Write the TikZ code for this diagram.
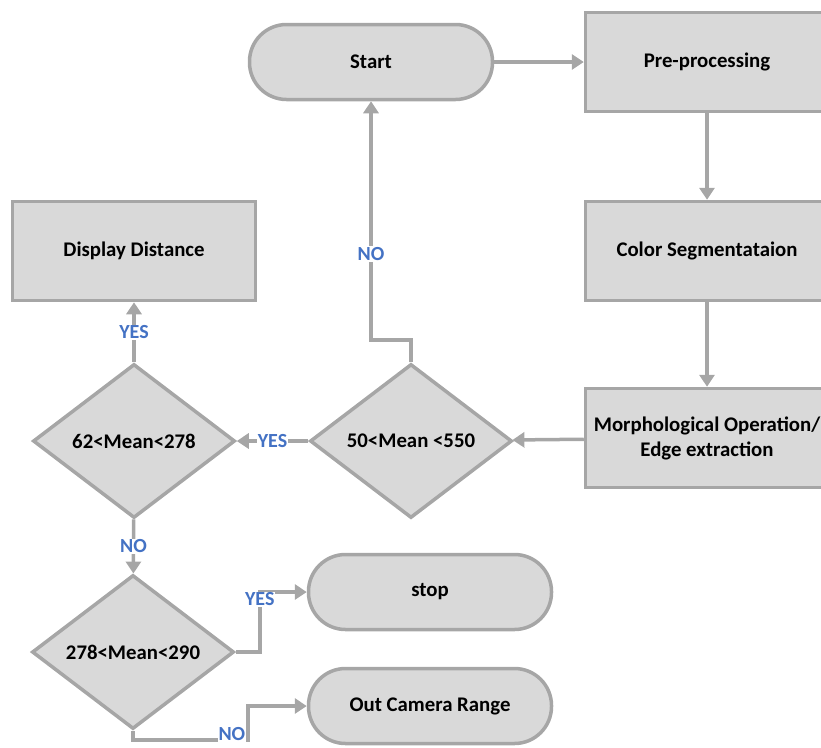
\documentclass[tikz,border=0pt]{standalone}
\usepackage{fontspec}
\setmainfont{Carlito}
\usetikzlibrary{shapes.geometric,arrows.meta}
\definecolor{boxfill}{HTML}{D9D9D9}
\definecolor{boxline}{HTML}{A6A6A6}
\definecolor{lblblue}{HTML}{4472C4}
\begin{document}
\begin{tikzpicture}[x=1pt,y=-1pt,
  box/.style={draw=boxline, fill=boxfill, line width=3.5pt, minimum width=243pt, inner sep=2pt, font=\fontsize{20.8}{25}\selectfont\bfseries, align=center},
  term/.style={box, rounded corners=37pt, minimum height=75pt},
  proc/.style={box, minimum height=99pt},
  cond/.style={box, diamond, minimum width=202pt, minimum height=154pt, inner sep=0pt},
  conn/.style={draw=boxline, line width=3.5pt, -{Triangle[width=15pt,length=12pt]}},
  lbl/.style={fill=white, text=lblblue, inner sep=1pt, font=\fontsize{20}{22}\selectfont\bfseries}]
\useasboundingbox (0,0) rectangle (821,747);
\node[term] (start) at (371,62) {Start};
\node[proc] (pre) at (707,62) {Pre-processing};
\node[proc] (seg) at (707,251) {Color Segmentataion};
\node[proc] (morph) at (707,438) {Morphological Operation/\\Edge extraction};
\node[proc] (disp) at (134,251) {Display Distance};
\node[cond] (meanA) at (411,441) {50<Mean <550};
\node[cond] (meanB) at (134,441) {62<Mean<278};
\node[cond] (meanC) at (133,652) {278<Mean<290};
\node[term] (stop) at (430,592) {stop};
\node[term] (out) at (430,706) {Out Camera Range};
\coordinate (nobend) at (411,340);
\coordinate (nocorner) at (248,740);
\draw[conn] (start) -- (pre);
\draw[conn] (pre) -- (seg);
\draw[conn] (seg) -- (morph);
\draw[conn] (morph) -- (meanA);
\draw[conn] (meanA) -- node[lbl] {YES} (meanB);
\draw[conn] (meanA.north) -- (nobend) -| node[pos=0.68, lbl] {NO} (start.south);
\draw[conn] (meanB) -- node[lbl] {YES} (disp);
\draw[conn] (meanB) -- node[lbl] {NO} (meanC);
\draw[conn] (meanC.east) -- ++(24,0) |- node[pos=0.44, lbl] {YES} (stop.west);
\draw[conn] (meanC.south) |- node[pos=0.93, lbl, yshift=6pt] {NO} (nocorner) |- (out.west);
\end{tikzpicture}
\end{document}
